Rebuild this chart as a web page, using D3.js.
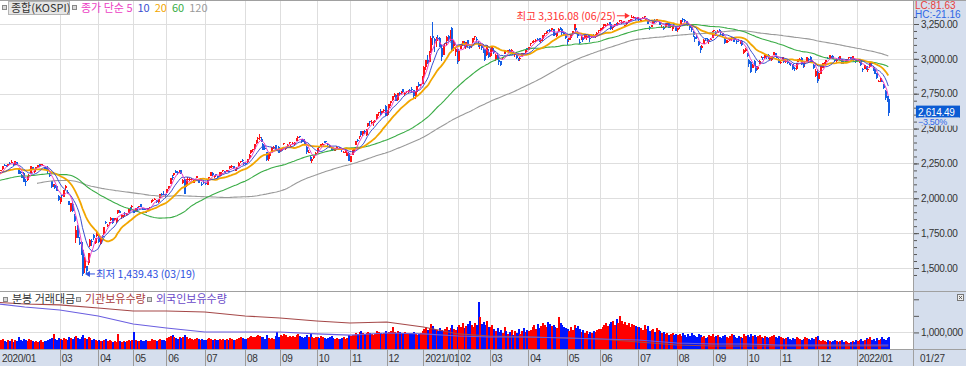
<!DOCTYPE html>
<html>
<head>
<meta charset="utf-8">
<script src="https://cdn.jsdelivr.net/npm/d3@7/dist/d3.min.js"></script>
<style>
  body { margin: 0; background: #fff; }
  svg { display: block; }
</style>
</head>
<body>
<div id="chart"></div>
<script>
// ---- data ----
const monthLabels = ["2020/01","","03","04","05","06","07","08","09","10","11","12",
  "2021/01","02","03","04","05","06","07","08","09","10","11","12","2022/01"];
const monthDays = [20,20,22,20,19,22,23,20,21,19,21,21, 20,18,22,22,19,22,22,21,19,19,22,22, 19];
const priceTicks = [1500,1750,2000,2250,2500,2750,3000,3250];
const lastDateLabel = "01/27";
const highDate = "06/25";
const lowDate = "03/19";

// closes before 2020/01/02 (only used for moving averages)
const warmupCloses = [1927,1939,1960,1964,1951,1948,1916,1933,1960,1933,1967,
  1969,1965,1988,2004,2009,2019,2032,2049,2062,2051,2070,2080,2091,2092,2101,2073,2074,2049,2063,
  2068,2031,2020,2021,2046,2032,2044,2067,2068,2081,2077,2060,2061,2085,2081,2082,2086,2093,2081,2080,2083,
  2100,2130,2142,2144,2144,2137,2124,2140,2122,2139,2162,2160,2156,2125,2096,2101,2123,2121,2121,2119,2087,
  2091,2068,2060,2068,2081,2099,2098,2105,2137,2170,2168,2196,2195,2194,2204,2203,2191,2198,2204,2197];

// [open, high, low, close]
const ohlc2020 = [
  // jan
  [2201,2202,2171,2175],[2192,2203,2165,2176],[2155,2164,2149,2155],[2166,2182,2161,2175],[2163,2164,2127,2151],
  [2180,2187,2172,2186],[2199,2206,2193,2206],[2208,2229,2206,2229],[2240,2248,2234,2239],[2234,2236,2221,2231],
  [2232,2248,2228,2248],[2253,2259,2242,2251],[2259,2277,2255,2263],[2248,2254,2233,2240],[2242,2267,2237,2267],
  [2259,2262,2240,2246],[2213,2215,2175,2177],[2186,2194,2174,2185],[2168,2173,2144,2148],[2179,2188,2119,2119],
  // feb
  [2127,2138,2088,2119],[2130,2160,2122,2158],[2157,2175,2142,2166],[2183,2231,2180,2228],[2224,2225,2206,2212],
  [2189,2201,2183,2201],[2211,2227,2201,2223],[2226,2240,2222,2238],[2243,2244,2222,2233],[2240,2244,2228,2244],
  [2232,2247,2229,2242],[2222,2226,2200,2209],[2218,2219,2194,2210],[2213,2229,2176,2196],[2165,2182,2150,2163],
  [2121,2122,2075,2079],[2093,2106,2079,2104],[2098,2098,2066,2077],[2089,2090,2049,2055],[2019,2020,1980,1987],
  // mar
  [1974,2007,1958,2002],[2020,2022,1997,2014],[2011,2059,2008,2059],[2074,2092,2063,2086],[2047,2057,2034,2040],
  [1981,1982,1953,1954],[1911,1965,1904,1963],[1961,1971,1905,1908],[1876,1888,1829,1834],[1718,1799,1681,1771],
  [1803,1807,1714,1715],[1690,1725,1665,1672],[1687,1692,1591,1591],[1626,1626,1439.43,1458],[1498,1577,1466,1566],
  [1516,1516,1458,1482],[1533,1609,1520,1609],[1658,1707,1652,1704],[1695,1706,1660,1686],[1737,1745,1701,1717],
  [1680,1718,1675,1718],[1733,1758,1722,1755],
  // apr
  [1737,1738,1681,1685],[1672,1729,1665,1725],[1731,1739,1712,1725],[1744,1791,1738,1792],[1827,1837,1813,1824],
  [1799,1813,1793,1807],[1828,1832,1808,1829],[1843,1864,1834,1861],[1858,1860,1818,1825],[1842,1858,1837,1858],
  [1827,1860,1824,1857],[1896,1915,1889,1915],[1906,1913,1892,1898],[1866,1884,1853,1879],[1869,1881,1860,1880],
  [1892,1903,1881,1890],[1880,1897,1876,1889],[1897,1922,1895,1922],[1930,1934,1911,1922],[1938,1949,1929,1948],
  // may
  [1906,1915,1891,1895],[1912,1928,1908,1928],[1936,1937,1918,1929],[1939,1948,1932,1945],[1957,1960,1935,1936],
  [1925,1929,1914,1922],[1926,1932,1914,1925],[1900,1910,1894,1898],[1916,1928,1913,1927],[1930,1938,1922,1937],
  [1980,1985,1968,1980],[1981,1992,1976,1989],[1997,2003,1989,1998],[1988,1991,1968,1970],[1975,1996,1966,1994],
  [2003,2031,2001,2030],[2032,2039,2015,2031],[2034,2055,2028,2029],[2031,2031,2005,2030],
  // jun
  [2036,2066,2036,2065],[2072,2089,2065,2088],[2102,2148,2101,2147],[2155,2166,2131,2151],[2166,2181,2157,2181],
  [2196,2200,2178,2184],[2191,2196,2170,2189],[2190,2200,2179,2196],[2200,2201,2171,2176],[2107,2140,2104,2133],
  [2135,2137,2030,2030],[2087,2141,2084,2138],[2132,2151,2126,2141],[2130,2145,2123,2140],[2140,2149,2130,2141],
  [2117,2133,2111,2126],[2129,2139,2107,2131],[2147,2163,2143,2161],[2128,2133,2111,2112],[2130,2143,2124,2134],
  [2106,2117,2085,2093],[2115,2122,2103,2108],
  // jul
  [2107,2114,2095,2106],[2097,2135,2093,2135],[2143,2153,2140,2152],[2162,2187,2161,2187],[2183,2188,2160,2165],
  [2160,2165,2144,2160],[2172,2175,2155,2168],[2159,2162,2143,2150],[2160,2186,2159,2186],[2171,2187,2168,2183],
  [2199,2201,2190,2201],[2195,2197,2180,2183],[2190,2202,2188,2201],[2199,2206,2189,2198],[2215,2230,2208,2228],
  [2227,2236,2214,2229],[2228,2231,2209,2217],[2198,2210,2194,2201],[2210,2221,2200,2217],[2228,2257,2225,2256],
  [2263,2270,2250,2264],[2276,2279,2257,2268],[2256,2263,2239,2249],
  // aug
  [2255,2258,2237,2251],[2259,2281,2255,2280],[2288,2315,2283,2311],[2327,2343,2316,2343],[2350,2352,2329,2351],
  [2357,2387,2349,2386],[2399,2419,2388,2418],[2430,2438,2400,2432],[2432,2458,2420,2437],[2428,2436,2404,2407],
  [2386,2394,2347,2348],[2363,2372,2347,2360],[2331,2335,2269,2274],[2285,2316,2265,2304],[2306,2332,2297,2329],
  [2342,2370,2340,2369],[2361,2377,2351,2370],[2380,2380,2343,2344],[2355,2366,2338,2353],[2370,2375,2326,2326],
  // sep
  [2340,2350,2330,2350],[2351,2364,2343,2363],[2388,2397,2380,2396],[2353,2370,2349,2368],[2381,2386,2371,2385],
  [2397,2402,2388,2401],[2373,2380,2358,2376],[2396,2402,2386,2397],[2387,2401,2383,2396],[2411,2430,2409,2428],
  [2430,2444,2427,2443],[2446,2450,2431,2436],[2425,2426,2398,2406],[2414,2419,2405,2413],[2411,2422,2387,2389],
  [2370,2374,2320,2333],[2331,2345,2323,2333],[2298,2305,2265,2273],[2271,2283,2256,2279],[2291,2311,2281,2309],
  [2328,2335,2318,2328],
  // oct
  [2336,2361,2325,2359],[2367,2371,2355,2366],[2378,2392,2369,2391],[2388,2398,2385,2391],[2405,2410,2397,2404],
  [2408,2412,2398,2404],[2388,2394,2375,2380],[2381,2385,2359,2361],[2350,2363,2343,2341],[2350,2365,2341,2347],
  [2338,2362,2337,2358],[2366,2374,2356,2370],[2353,2362,2345,2356],[2364,2370,2353,2361],[2354,2359,2332,2343],
  [2327,2342,2322,2331],[2327,2348,2323,2345],[2306,2327,2300,2327],[2328,2331,2267,2267],
  // nov
  [2262,2302,2261,2301],[2314,2344,2310,2343],[2336,2362,2326,2358],[2385,2413,2379,2413],[2421,2425,2401,2416],
  [2437,2450,2425,2448],[2483,2485,2444,2452],[2462,2486,2450,2485],[2481,2487,2463,2475],[2456,2493,2446,2494],
  [2521,2543,2510,2543],[2553,2556,2521,2544],[2543,2559,2536,2546],[2541,2553,2521,2547],[2546,2559,2537,2553],
  [2567,2603,2561,2603],[2612,2622,2593,2618],[2626,2642,2590,2602],[2613,2626,2598,2625],[2632,2641,2615,2633],
  [2659,2670,2591,2591],
  // dec
  [2597,2635,2589,2634],[2650,2675,2630,2675],[2686,2697,2660,2696],[2702,2731,2700,2731],[2736,2756,2725,2746],
  [2743,2749,2700,2700],[2702,2755,2696,2755],[2757,2760,2734,2746],[2753,2771,2745,2770],[2786,2786,2755,2762],
  [2746,2761,2734,2757],[2760,2773,2753,2771],[2763,2779,2755,2771],[2774,2783,2760,2772],[2784,2798,2761,2778],
  [2775,2779,2720,2733],[2729,2766,2711,2760],[2765,2808,2765,2806],[2822,2834,2795,2808],[2810,2822,2806,2821],
  [2820,2878,2820,2873]
];

const ohlc2021 = [
  // jan
  [2874,2946,2869,2944],[2943,2990,2921,2991],[2994,3027,2962,2968],[2981,3055,2980,3032],[3040,3161,3040,3152],
  [3161,3266,3096,3149],[3146,3150,3049,3126],[3128,3157,3088,3149],[3151,3168,3125,3150],[3149,3154,3085,3086],
  [3077,3097,2988,3013],[3026,3093,3026,3092],[3105,3114,3067,3114],[3128,3161,3099,3160],[3163,3171,3130,3141],
  [3144,3209,3131,3208],[3221,3225,3057,3070],[3094,3133,3054,3122],[3047,3083,3023,3069],[3069,3073,2963,2976],
  // feb
  [2986,3064,2976,3056],[3073,3109,3071,3097],[3113,3130,3094,3130],[3123,3128,3076,3088],[3084,3121,3071,3121],
  [3135,3138,3084,3092],[3094,3104,3071,3084],[3097,3108,3080,3100],[3123,3149,3116,3147],[3161,3165,3133,3164],
  [3146,3159,3120,3134],[3117,3128,3084,3087],[3090,3114,3070,3107],[3102,3111,3065,3080],[3071,3084,3042,3070],
  [3072,3074,2985,2995],[3026,3100,3024,3099],[3050,3069,3005,3013],
  // mar
  [3038,3069,3013,3044],[3047,3083,3021,3083],[3053,3075,3036,3044],[2999,3033,2982,3026],[3028,3040,2989,2997],
  [2993,3001,2953,2976],[2982,2988,2951,2958],[3005,3016,2994,3014],[3045,3058,3038,3054],[3055,3061,3033,3046],
  [3049,3067,3047,3067],[3064,3068,3041,3048],[3064,3074,3045,3067],[3048,3050,3025,3039],[3032,3040,3014,3036],
  [3032,3037,3001,3004],[3002,3009,2985,2996],[2999,3016,2988,3009],[3022,3042,3018,3041],[3040,3042,3025,3036],
  [3052,3071,3038,3071],[3075,3080,3053,3062],
  // apr
  [3064,3088,3061,3088],[3104,3112,3093,3112],[3119,3128,3111,3121],[3126,3138,3113,3128],[3130,3140,3123,3138],
  [3146,3147,3126,3144],[3150,3151,3124,3132],[3126,3144,3113,3135],[3145,3169,3129,3169],[3176,3184,3167,3182],
  [3187,3197,3180,3194],[3204,3209,3190,3199],[3210,3213,3193,3198],[3206,3221,3201,3221],[3211,3215,3164,3172],
  [3180,3185,3166,3178],[3165,3188,3160,3187],[3199,3218,3193,3217],[3222,3226,3204,3216],[3211,3213,3167,3182],
  [3190,3196,3171,3174],[3173,3176,3146,3148],
  // may
  [3141,3145,3101,3128],[3135,3148,3120,3148],[3147,3179,3135,3179],[3180,3198,3173,3198],[3210,3249,3205,3250],
  [3224,3231,3191,3209],[3194,3200,3151,3162],[3124,3143,3109,3123],[3140,3162,3133,3153],[3158,3159,3120,3135],
  [3147,3173,3140,3174],[3152,3168,3134,3163],[3178,3181,3152,3157],[3150,3158,3123,3144],[3157,3173,3152,3163],
  [3167,3180,3159,3166],[3160,3175,3151,3165],[3174,3192,3170,3188],[3197,3208,3185,3204],
  // jun
  [3205,3224,3199,3222],[3221,3231,3208,3224],[3234,3248,3222,3248],[3239,3248,3226,3241],[3251,3254,3235,3253],
  [3262,3263,3243,3248],[3248,3255,3208,3217],[3219,3232,3206,3225],[3242,3251,3231,3250],[3258,3260,3244,3253],
  [3255,3264,3241,3259],[3272,3278,3261,3278],[3257,3277,3250,3265],[3268,3274,3258,3268],[3236,3246,3226,3241],
  [3248,3266,3240,3264],[3267,3278,3260,3276],[3272,3287,3268,3287],[3300,3316.08,3296,3302],[3300,3309,3292,3302],
  [3294,3299,3276,3287],[3290,3300,3285,3297],
  // jul
  [3285,3295,3272,3282],[3272,3285,3263,3282],[3289,3297,3283,3293],[3303,3306,3288,3305],[3282,3289,3274,3285],
  [3280,3282,3250,3253],[3228,3235,3207,3218],[3230,3246,3227,3246],[3253,3271,3249,3272],[3275,3285,3256,3265],
  [3278,3288,3269,3286],[3271,3279,3264,3276],[3266,3267,3240,3244],[3226,3243,3222,3232],[3231,3235,3209,3216],
  [3225,3251,3222,3250],[3243,3258,3238,3254],[3254,3257,3222,3224],[3233,3241,3223,3233],[3213,3239,3203,3237],
  [3252,3260,3236,3243],[3230,3233,3197,3202],
  // aug
  [3205,3224,3195,3224],[3226,3240,3212,3237],[3245,3280,3245,3280],[3289,3290,3265,3276],[3280,3286,3263,3270],
  [3271,3275,3247,3260],[3255,3257,3236,3243],[3235,3245,3209,3221],[3226,3232,3195,3209],[3193,3197,3159,3171],
  [3156,3164,3123,3143],[3160,3168,3140,3158],[3126,3129,3092,3097],[3086,3090,3043,3060],[3079,3097,3065,3090],
  [3109,3139,3105,3138],[3147,3150,3131,3146],[3143,3150,3123,3128],[3123,3135,3108,3133],[3141,3152,3133,3144],
  [3151,3200,3149,3200],
  // sep
  [3202,3210,3190,3207],[3196,3197,3167,3175],[3188,3207,3184,3201],[3210,3211,3193,3203],[3199,3200,3172,3187],
  [3185,3186,3156,3163],[3144,3150,3110,3114],[3122,3136,3114,3126],[3125,3133,3113,3128],[3134,3149,3126,3149],
  [3150,3156,3130,3154],[3159,3160,3123,3130],[3141,3144,3122,3140],[3129,3134,3110,3128],[3136,3141,3119,3125],
  [3132,3134,3110,3134],[3131,3132,3089,3097],[3043,3072,3034,3060],[3059,3079,3052,3069],
  // oct
  [3039,3045,3014,3019],[2989,3002,2940,2962],[2980,2986,2901,2908],[2935,2963,2932,2959],[2983,2993,2947,2956],
  [2949,2954,2901,2916],[2924,2946,2919,2945],[2965,2993,2961,2988],[3010,3021,3006,3015],[3010,3016,2993,3006],
  [3009,3031,3001,3030],[3019,3024,2998,3013],[3031,3035,3002,3007],[2997,3012,2991,3007],[2995,3021,2986,3021],
  [3030,3050,3025,3049],[3042,3045,3025,3026],[3011,3024,3003,3009],[3000,3003,2968,2971],
  // nov
  [2974,2988,2960,2978],[2989,3013,2984,3013],[2996,2998,2970,2976],[2982,2991,2967,2983],[2982,2990,2964,2970],
  [2965,2977,2957,2961],[2968,2971,2952,2963],[2964,2966,2919,2930],[2936,2944,2910,2925],[2929,2970,2923,2969],
  [2979,3002,2975,2999],[2995,3005,2982,2998],[3009,3010,2958,2963],[2962,2970,2938,2947],[2961,2975,2944,2972],
  [2986,3014,2983,3014],[3001,3006,2985,2998],[3014,3018,2987,2994],[2992,2995,2970,2980],[2958,2961,2926,2936],
  [2877,2928,2873,2910],[2907,2929,2828,2839],
  // dec
  [2855,2900,2838,2900],[2890,2946,2888,2946],[2934,2969,2932,2968],[2964,2976,2955,2973],[2978,2992,2966,2991],
  [3004,3016,2998,3001],[3007,3030,3005,3029],[3017,3023,3004,3011],[3022,3026,2998,3001],[2991,2994,2976,2988],
  [2987,2998,2976,2990],[3009,3016,2997,3006],[3000,3017,2993,3018],[2999,3000,2961,2963],[2977,2984,2963,2975],
  [2978,2988,2973,2985],[2987,3002,2982,2998],[3005,3013,3001,3013],[3011,3014,2996,3000],[3003,3021,2996,3020],
  [3007,3012,2988,2993],[2994,2999,2967,2978]
];

const ohlc2022 = [
  [2989,2999,2977,2989],[2989,2999,2972,2990],[2985,2990,2950,2953],[2928,2938,2904,2921],[2930,2957,2924,2954],
  [2951,2952,2921,2927],[2925,2934,2904,2927],[2941,2972,2938,2972],[2975,2981,2951,2963],[2945,2947,2911,2921],
  [2925,2928,2890,2891],[2895,2897,2857,2864],[2837,2849,2833,2843],[2850,2866,2837,2862],[2842,2853,2831,2834],
  [2822,2823,2785,2792],[2770,2775,2707,2720],[2731,2735,2691,2709.24],[2710,2715,2591.53,2614.49]
];

// daily trading value (bars)
const value2020 = [
  8,7,6,9,8,7,9,10,8,7,9,8,10,7,9,8,12,9,8,10,
  9,8,10,9,8,7,8,7,8,9,7,8,8,9,10,11,15,10,9,11,
  10,9,11,10,9,12,11,10,12,13,11,10,12,14,11,10,12,11,9,10,9,8,
  9,8,8,9,10,8,9,8,7,8,7,15,8,7,8,7,8,9,8,9,
  17,9,8,8,9,8,8,9,8,8,10,9,9,8,9,10,9,9,8,
  11,12,13,14,12,11,10,12,11,12,14,12,10,11,10,9,10,11,10,9,10,9,
  9,10,11,10,9,10,9,9,10,9,10,9,10,9,11,10,9,9,10,11,12,11,10,
  10,11,12,13,12,12,13,14,13,12,12,10,14,11,10,11,10,13,17,12,
  14,13,15,14,12,13,12,13,12,14,15,13,12,11,12,14,12,15,12,11,12,
  12,11,13,12,11,10,11,12,13,11,10,11,10,10,11,12,10,11,14,
  13,14,14,16,15,17,18,16,15,16,17,16,15,14,15,18,17,16,15,16,18,
  16,17,18,22,17,16,18,17,16,16,17,15,16,15,16,17,15,14,15,16,18
];
const value2021 = [
  20,22,19,21,25,23,20,19,18,21,19,18,20,22,19,21,24,20,19,22,
  24,22,26,21,23,25,28,24,22,26,24,47,32,25,27,24,28,22,
  22,24,20,18,21,17,19,16,22,18,15,17,19,14,18,16,20,15,18,21,17,19,
  18,19,22,24,20,25,21,23,26,24,22,27,25,23,24,22,21,32,26,24,22,21,
  20,18,22,19,24,21,23,20,17,19,16,18,15,17,16,18,17,19,20,
  20,22,24,26,23,25,27,28,24,30,26,33,28,25,27,24,26,22,25,24,23,22,
  22,21,19,24,20,23,18,19,20,17,21,19,18,16,17,15,16,14,15,16,14,15,
  14,15,13,16,14,12,15,13,16,14,13,12,15,14,12,13,11,12,14,13,15,
  12,13,14,12,11,13,14,12,11,13,15,14,12,11,13,12,11,15,13,
  14,12,15,13,14,12,13,14,12,11,13,12,11,12,13,14,12,11,13,
  12,11,10,11,12,10,9,11,10,12,11,10,9,10,12,11,10,9,11,10,12,13,
  9,8,9,8,7,9,8,7,8,9,8,7,8,9,7,8,7,6,7,8,7,9
];
const value2022 = [8,9,10,8,9,11,10,12,9,10,8,11,9,10,12,10,9,11,12];

// holdings at each month start, last entry = last day
const instHolding = [2840000,2720000,2660000,2470000,2290000,2290000,2230000,1990000,1870000,1690000,1570000,1630000,
  1330000,910000,780000,720000,660000,600000,420000,240000,180000,180000,180000,180000,180000,180000];
const foreignHolding = [2780000,2530000,2350000,1990000,1510000,1270000,1030000,1030000,1030000,910000,840000,970000,
  910000,780000,720000,720000,660000,600000,540000,360000,300000,300000,240000,240000,240000,240000];

// ---- setup ----
const width = 966, height = 366;
const plotRight = 913;
const priceTop = 1, priceBottom = 291, volBottom = 349;
const panelColor = "#d5deed";
const numFont = "'Liberation Sans', Arial, sans-serif";
const krFont = "'Noto Sans CJK KR', sans-serif";
const fmt = d3.format(",.2f");

const candles = [...ohlc2020, ...ohlc2021, ...ohlc2022].map((d, i) => ({ i, o: d[0], h: d[1], l: d[2], c: d[3] }));
const values = [...value2020, ...value2021, ...value2022];
const lastIdx = candles.length - 1;
const monthStart = [0, ...d3.cumsum(monthDays)].slice(0, monthDays.length);

const svg = d3.select("#chart").append("svg")
  .attr("width", width).attr("height", height)
  .style("font-family", numFont);

const defs = svg.append("defs");
defs.append("clipPath").attr("id", "clipPrice").append("rect")
  .attr("x", 0).attr("y", priceTop).attr("width", plotRight).attr("height", priceBottom - priceTop);
defs.append("clipPath").attr("id", "clipVol").append("rect")
  .attr("x", 0).attr("y", priceBottom + 1).attr("width", plotRight).attr("height", volBottom - priceBottom - 1);

// scales
const x = d3.scaleLinear().domain([0, lastIdx]).range([-10.2, 888.3]);
const y = d3.scaleLinear().domain([1500, 3250]).range([268, 24]);
const yVal = d3.scaleLinear().domain([0, 58]).range([volBottom, priceBottom]);
const yHold = d3.scaleLinear().domain([0, 3500000]).range([volBottom, priceBottom]);

// right panel + bottom band
svg.append("rect").attr("x", plotRight).attr("y", 0).attr("width", width - plotRight).attr("height", height).attr("fill", panelColor);
svg.append("rect").attr("x", 0).attr("y", volBottom).attr("width", width).attr("height", height - volBottom).attr("fill", panelColor);

// gridlines
const grid = svg.append("g").attr("stroke", "#dedede").attr("stroke-width", 1);
grid.selectAll(".hg").data(priceTicks).enter().append("line")
  .attr("x1", 0).attr("x2", plotRight)
  .attr("y1", (d) => Math.round(y(d)) + 0.5).attr("y2", (d) => Math.round(y(d)) + 0.5);
grid.append("line").attr("x1", 0).attr("x2", plotRight)
  .attr("y1", Math.round(yHold(1000000)) + 0.5).attr("y2", Math.round(yHold(1000000)) + 0.5);
const monthIdx = monthStart.map((s, k) => k).filter((k) => monthLabels[k] !== "" && x(monthStart[k]) > 0);
grid.selectAll(".vg").data(monthIdx).enter().append("line")
  .attr("x1", (k) => Math.round(x(monthStart[k])) + 0.5).attr("x2", (k) => Math.round(x(monthStart[k])) + 0.5)
  .attr("y1", 0).attr("y2", volBottom);

// ---- price panel ----
const price = svg.append("g").attr("clip-path", "url(#clipPrice)");
const upColor = "#ff1414", downColor = "#145fe4";
const col = (d) => (d.c >= d.o ? upColor : downColor);

const candleG = price.append("g").attr("shape-rendering", "crispEdges");
candleG.selectAll(".wick").data(candles).enter().append("rect")
  .attr("x", (d) => Math.round(x(d.i))).attr("width", 1)
  .attr("y", (d) => y(d.h)).attr("height", (d) => Math.max(1, y(d.l) - y(d.h)))
  .attr("fill", col);
candleG.selectAll(".body").data(candles).enter().append("rect")
  .attr("x", (d) => Math.round(x(d.i)) - 0.5).attr("width", 2)
  .attr("y", (d) => y(Math.max(d.o, d.c)))
  .attr("height", (d) => Math.max(1, Math.abs(y(d.o) - y(d.c))))
  .attr("fill", col);

// moving averages
const closesAll = warmupCloses.concat(candles.map((d) => d.c));
const pad = warmupCloses.length;
function movingAverage(n) {
  return candles.map((d, i) => {
    const k = i + pad;
    if (k + 1 < n) return null;
    return { i, v: d3.mean(closesAll.slice(k + 1 - n, k + 1)) };
  }).filter((d) => d);
}
const maLine = d3.line().x((d) => x(d.i)).y((d) => y(d.v));
const maSpecs = [
  { n: 120, color: "#9a9a9a", w: 1.1 },
  { n: 60, color: "#3aac46", w: 1.1 },
  { n: 20, color: "#f2a600", w: 1.8 },
  { n: 10, color: "#3a4fd0", w: 1 },
  { n: 5, color: "#ec3fc4", w: 1 }
];
maSpecs.forEach((m) => {
  price.append("path").datum(movingAverage(m.n))
    .attr("d", maLine).attr("fill", "none")
    .attr("stroke", m.color).attr("stroke-width", m.w);
});

// high / low annotations
const hi = d3.greatest(candles, (d) => d.h);
const lo = d3.least(candles, (d) => d.l);
const hiX = x(hi.i) - 1.5, hiY = y(hi.h) + 1;
svg.append("path").attr("d", `M${hiX},${hiY} l-5,-3 v6 z`).attr("fill", "#ff3030");
svg.append("line").attr("x1", hiX - 13).attr("x2", hiX - 4).attr("y1", hiY).attr("y2", hiY).attr("stroke", "#ff3030");
svg.append("text").attr("x", hiX - 14).attr("y", hiY + 4).attr("text-anchor", "end")
  .attr("fill", "#ff3030").style("font-family", krFont).style("font-size", "10.5px")
  .text(`최고 ${fmt(hi.h)} (${highDate})`);

const loX = x(lo.i) + 2.5, loY = y(lo.l) - 2.5;
svg.append("path").attr("d", `M${loX},${loY} l5,-3 v6 z`).attr("fill", "#2b4fe0");
svg.append("line").attr("x1", loX + 4).attr("x2", loX + 10).attr("y1", loY).attr("y2", loY).attr("stroke", "#2b4fe0");
svg.append("text").attr("x", loX + 11).attr("y", loY + 4)
  .attr("fill", "#2b4fe0").style("font-family", krFont).style("font-size", "10.5px")
  .text(`최저 ${fmt(lo.l)} (${lowDate})`);

// ---- volume panel ----
const vol = svg.append("g").attr("clip-path", "url(#clipVol)");
vol.append("g").attr("shape-rendering", "crispEdges")
  .selectAll(".bar").data(candles).enter().append("rect")
  .attr("x", (d) => Math.round(x(d.i)) - 0.5).attr("width", 2)
  .attr("y", (d) => Math.round(yVal(values[d.i])))
  .attr("height", (d) => Math.round(yVal(0) - yVal(values[d.i])))
  .attr("fill", (d) => (d.c >= d.o ? "#ff0000" : "#0014ff"));

const holdX = [...monthStart, lastIdx];
const holdLine = d3.line().x((d, k) => x(holdX[k])).y((d) => yHold(d));
vol.append("path").datum(instHolding).attr("d", holdLine).attr("fill", "none")
  .attr("stroke", "#a54848").attr("stroke-width", 1.1);
vol.append("path").datum(foreignHolding).attr("d", holdLine).attr("fill", "none")
  .attr("stroke", "#6a5ee0").attr("stroke-width", 1.1);

// ---- frame lines ----
const frame = svg.append("g").attr("stroke", "#a0a0a0").attr("stroke-width", 1);
frame.append("line").attr("x1", 0).attr("x2", width).attr("y1", 0.5).attr("y2", 0.5);
frame.append("line").attr("x1", 0).attr("x2", width).attr("y1", priceBottom + 0.5).attr("y2", priceBottom + 0.5);
frame.append("line").attr("x1", 0).attr("x2", width).attr("y1", volBottom + 0.5).attr("y2", volBottom + 0.5);
frame.append("line").attr("x1", plotRight + 0.5).attr("x2", plotRight + 0.5).attr("y1", 0).attr("y2", height);

// ---- right axes ----
function styleAxis(g) {
  g.select(".domain").remove();
  g.selectAll(".tick line").attr("stroke", "#555");
  g.selectAll(".tick text").attr("fill", "#333").style("font-size", "10px")
    .style("font-family", numFont).style("letter-spacing", "-0.3px");
}
svg.append("g").attr("transform", `translate(${plotRight + 1},0)`)
  .call(d3.axisRight(y).tickValues(d3.range(1450, 3301, 50)).tickSize(3).tickFormat(""))
  .call(styleAxis);
svg.append("g").attr("transform", `translate(${plotRight + 1},0)`)
  .call(d3.axisRight(y).tickValues(priceTicks).tickSize(5).tickPadding(2).tickFormat(fmt))
  .call(styleAxis);
svg.append("g").attr("transform", `translate(${plotRight + 1},0)`)
  .call(d3.axisRight(yHold).tickValues([1000000, 2000000, 3000000]).tickSize(5).tickPadding(2)
    .tickFormat((d) => (d === 1000000 ? d3.format(",")(d) : "")))
  .call(styleAxis);

// current price tag
const last = candles[lastIdx];
const prev = candles[lastIdx - 1];
const lastY = y(last.c);
svg.append("rect").attr("x", plotRight + 3).attr("y", lastY - 7).attr("width", 44).attr("height", 12).attr("fill", "#0b5bd3");
svg.append("text").attr("x", plotRight + 5).attr("y", lastY + 3).attr("fill", "#fff")
  .style("font-size", "10px").style("letter-spacing", "-0.3px").text(fmt(last.c));
svg.append("rect").attr("x", plotRight + 6).attr("y", lastY + 5).attr("width", 40).attr("height", 8).attr("fill", panelColor);
svg.append("text").attr("x", plotRight + 5).attr("y", lastY + 12.5).attr("fill", "#2f66e6")
  .style("font-size", "9px").style("letter-spacing", "-0.3px")
  .text(d3.format(".2f")((last.c / prev.c - 1) * 100) + "%");

// LC / HC
svg.append("text").attr("x", plotRight + 2).attr("y", 8.5).attr("fill", "#e8403a")
  .style("font-size", "10px").text("LC:81.63");
svg.append("text").attr("x", plotRight + 2).attr("y", 17.5).attr("fill", "#2f66e6")
  .style("font-size", "10px").text("HC:-21.16");

// small close icon in volume panel
svg.append("rect").attr("x", 957.5).attr("y", 294.5).attr("width", 6).attr("height", 6)
  .attr("fill", "#eee").attr("stroke", "#777");
svg.append("path").attr("d", "M959,296 l3,3 M962,296 l-3,3").attr("stroke", "#444").attr("stroke-width", 0.8);

// ---- x axis band ----
const band = svg.append("g");
band.selectAll(".sep").data(monthIdx).enter().append("line")
  .attr("x1", (k) => Math.round(x(monthStart[k])) + 0.5).attr("x2", (k) => Math.round(x(monthStart[k])) + 0.5)
  .attr("y1", volBottom).attr("y2", height).attr("stroke", "#9a9a9a");
band.selectAll(".mlab").data(monthStart.map((s, k) => k).filter((k) => monthLabels[k] !== ""))
  .enter().append("text")
  .attr("x", (k) => Math.max(2, x(monthStart[k]) + 2))
  .attr("y", 362).attr("fill", "#333")
  .style("font-size", "10px").style("letter-spacing", "-0.3px")
  .text((k) => monthLabels[k]);
band.append("text").attr("x", plotRight + 7).attr("y", 362).attr("fill", "#333")
  .style("font-size", "10px").text(lastDateLabel);

// ---- legends ----
function icon(xp, yp) {
  svg.append("rect").attr("x", xp + 0.5).attr("y", yp + 0.5).attr("width", 4).attr("height", 4)
    .attr("fill", "#d8d8d8").attr("stroke", "#888");
}
icon(2, 5);
svg.append("rect").attr("x", 8.5).attr("y", 1.5).attr("width", 61).attr("height", 13)
  .attr("fill", "#e6e6e6").attr("stroke", "#b4b4b4");
svg.append("text").attr("x", 11).attr("y", 12).attr("fill", "#333")
  .style("font-family", krFont).style("font-size", "11px").text("종합(KOSPI)");
icon(72, 5);
const maLegend = svg.append("text").attr("x", 81).attr("y", 12)
  .style("font-family", krFont).style("font-size", "11px");
maLegend.append("tspan").attr("fill", "#ec3fc4").text("종가 단순 5");
maLegend.append("tspan").attr("dx", 5).attr("fill", "#3a4fd0").text("10");
maLegend.append("tspan").attr("dx", 5).attr("fill", "#f2a600").text("20");
maLegend.append("tspan").attr("dx", 5).attr("fill", "#3aac46").text("60");
maLegend.append("tspan").attr("dx", 5).attr("fill", "#9a9a9a").text("120");

icon(3, 297);
svg.append("text").attr("x", 12).attr("y", 303).attr("fill", "#333")
  .style("font-family", krFont).style("font-size", "11px").text("분봉 거래대금");
icon(76, 297);
svg.append("text").attr("x", 85).attr("y", 303).attr("fill", "#a83a3a")
  .style("font-family", krFont).style("font-size", "11px").text("기관보유수량");
icon(147, 297);
svg.append("text").attr("x", 156).attr("y", 303).attr("fill", "#6a48c8")
  .style("font-family", krFont).style("font-size", "11px").text("외국인보유수량");
</script>
</body>
</html>
